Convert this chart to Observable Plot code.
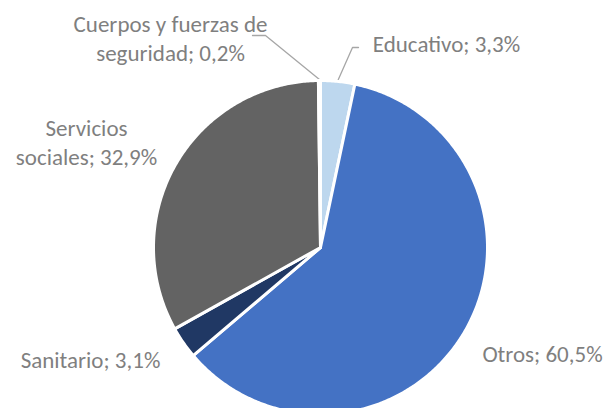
<!DOCTYPE html>
<html>
<head>
<meta charset="utf-8">
<script src="https://cdn.jsdelivr.net/npm/d3@7"></script>
<script src="https://cdn.jsdelivr.net/npm/@observablehq/plot@0.6"></script>
<style>
  html, body { margin: 0; padding: 0; background: #fff; }
  #chart { width: 606px; height: 408px; overflow: hidden; }
</style>
</head>
<body>
<div id="chart"></div>
<script>
// Data
const categories = ["Educativo", "Otros", "Sanitario", "Servicios sociales", "Cuerpos y fuerzas de seguridad"];
const values = [3.3, 60.5, 3.1, 32.9, 0.2];
const labels = ["Educativo; 3,3%", "Otros; 60,5%", "Sanitario; 3,1%", "Servicios\nsociales; 32,9%", "Cuerpos y fuerzas de\nseguridad; 0,2%"];
const colors = ["#BDD7EE", "#4472C4", "#203864", "#636363", "#A5A5A5"];

// Layout (pixels)
const W = 606, H = 408;
const cx = 320, cy = 247, R = 167;
const labelPos = [
  {x: 446, y: 42},
  {x: 542, y: 352},
  {x: 90, y: 358},
  {x: 86, y: 141},
  {x: 170, y: 37}
];
const leaderEnds = {
  0: [[358, 47], [352, 47]],
  4: [[252, 35], [265, 35]]
};

const pie = d3.pie().sort(null).value(d => d)(values);
const polys = [];
pie.forEach((p, i) => {
  const n = Math.max(2, Math.ceil((p.endAngle - p.startAngle) / 0.01));
  polys.push({i, x: cx, y: cy});
  for (let k = 0; k <= n; k++) {
    const a = p.startAngle + (p.endAngle - p.startAngle) * k / n;
    polys.push({i, x: cx + R * Math.sin(a), y: cy - R * Math.cos(a)});
  }
});

const leaders = [];
Object.entries(leaderEnds).forEach(([k, pts]) => {
  const p = pie[+k];
  const a = (p.startAngle + p.endAngle) / 2;
  pts.forEach(([x, y]) => leaders.push({i: +k, x, y}));
  leaders.push({i: +k, x: cx + (R + 1) * Math.sin(a), y: cy - (R + 1) * Math.cos(a)});
});

const labelData = labels.map((t, i) => ({t, ...labelPos[i]}));

const chart = Plot.plot({
  width: W, height: H,
  margin: 0,
  x: {domain: [0, W], range: [0, W], axis: null},
  y: {domain: [0, H], range: [0, H], axis: null},
  style: {fontFamily: "Carlito, Calibri, Lato, sans-serif", background: "#fff"},
  marks: [
    Plot.line(leaders, {x: "x", y: "y", z: "i", stroke: "#A6A6A6", strokeWidth: 1.3}),
    Plot.line(polys, {x: "x", y: "y", z: "i", fill: d => colors[d.i], stroke: "#fff", strokeWidth: 3, strokeLinejoin: "round", curve: "linear-closed"}),
    Plot.text(labelData, {x: "x", y: "y", text: "t", fill: "#7F7F7F", fontSize: 23, lineHeight: 1.25, textAnchor: "middle", lineAnchor: "middle"})
  ]
});
document.getElementById("chart").appendChild(chart);
</script>
</body>
</html>
